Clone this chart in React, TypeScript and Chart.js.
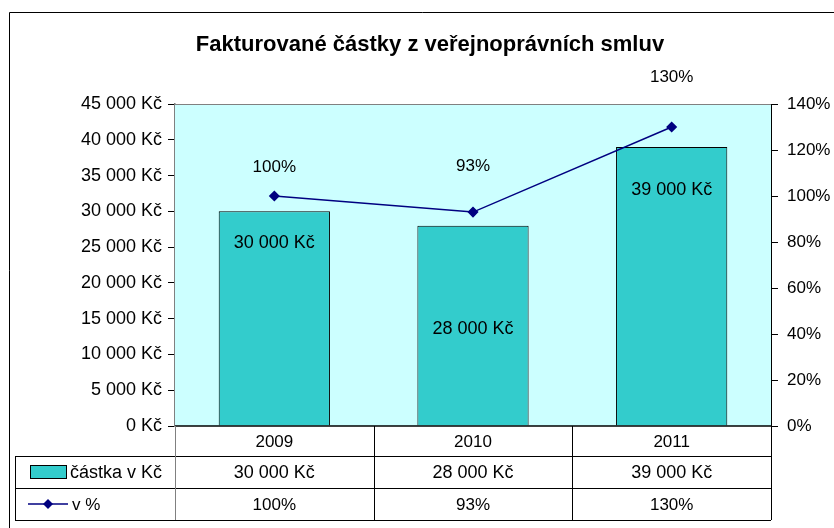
import React, { useEffect, useRef } from "react";
import { Chart, registerables } from "chart.js";

Chart.register(...registerables);

const title = "Fakturované částky z veřejnoprávních smluv";
const years = ["2009", "2010", "2011"];
const amounts = [30000, 28000, 39000];
const percents = [100, 93, 130];
const amountLabel = "částka v Kč";
const percentLabel = "v %";

const FONT = '"Liberation Sans", Arial, sans-serif';

const fmtKc = (v: number) =>
  String(v).replace(/\B(?=(\d{3})+(?!\d))/g, " ") + " Kč";
const fmtPct = (v: number) => Math.round(v) + "%";

const barLabelOffset = [32, 103, 43];
const lineLabelOffset = [-29, -46, -50];

const customPlugin = {
  id: "excelLook",
  beforeDatasetsDraw(chart: any) {
    const { ctx, chartArea: a } = chart;
    ctx.save();
    ctx.fillStyle = "#CCFFFF";
    ctx.fillRect(a.left, a.top, a.right - a.left, a.bottom - a.top);
    ctx.strokeStyle = "#808080";
    ctx.lineWidth = 1;
    ctx.beginPath();
    ctx.moveTo(a.left, a.top + 0.5);
    ctx.lineTo(a.right, a.top + 0.5);
    ctx.stroke();
    ctx.restore();
  },
  afterDraw(chart: any) {
    const { ctx, chartArea: a } = chart;
    const xs = chart.scales.x;
    const ys = chart.scales.y;
    const y1 = chart.scales.y1;
    ctx.save();

    // outer border
    ctx.strokeStyle = "#000";
    ctx.lineWidth = 1;
    ctx.beginPath();
    ctx.moveTo(9.5, 600);
    ctx.lineTo(9.5, 12.5);
    ctx.lineTo(900, 12.5);
    ctx.stroke();

    // title
    ctx.fillStyle = "#000";
    ctx.font = `bold 22px ${FONT}`;
    ctx.textAlign = "center";
    ctx.textBaseline = "middle";
    ctx.fillText(title, (a.left + a.right) / 2 - 43, 45);

    // x axis line
    ctx.strokeStyle = "#000";
    ctx.lineWidth = 1.5;
    ctx.beginPath();
    ctx.moveTo(a.left, a.bottom);
    ctx.lineTo(a.right, a.bottom);
    ctx.stroke();

    // data labels
    ctx.fillStyle = "#000";
    ctx.font = `18px ${FONT}`;
    amounts.forEach((v, i) => {
      const x = xs.getPixelForValue(i);
      ctx.fillText(fmtKc(v), x, ys.getPixelForValue(v) + barLabelOffset[i]);
    });
    ctx.font = `17px ${FONT}`;
    percents.forEach((v, i) => {
      const x = xs.getPixelForValue(i);
      ctx.fillText(fmtPct(v), x, y1.getPixelForValue(v) + lineLabelOffset[i]);
    });

    // data table
    const r0 = a.bottom;
    const r1 = r0 + 30;
    const r2 = r1 + 32;
    const r3 = r2 + 32;
    const tl = 15;
    const w = (a.right - a.left) / years.length;
    ctx.lineWidth = 1;
    ctx.strokeStyle = "#000";
    ctx.beginPath();
    ctx.moveTo(tl, r1 + 0.5);
    ctx.lineTo(a.right, r1 + 0.5);
    ctx.moveTo(tl, r2 + 0.5);
    ctx.lineTo(a.right, r2 + 0.5);
    ctx.moveTo(tl, r3 + 0.5);
    ctx.lineTo(a.right, r3 + 0.5);
    ctx.moveTo(tl + 0.5, r1);
    ctx.lineTo(tl + 0.5, r3);
    for (let i = 1; i <= years.length; i++) {
      const x = Math.round(a.left + i * w) + 0.5;
      ctx.moveTo(x, r0);
      ctx.lineTo(x, r3);
    }
    ctx.stroke();
    ctx.strokeStyle = "#808080";
    ctx.beginPath();
    ctx.moveTo(a.left + 0.5, r0);
    ctx.lineTo(a.left + 0.5, r3);
    ctx.stroke();

    ctx.fillStyle = "#000";
    ctx.textAlign = "center";
    years.forEach((y, i) => {
      const x = xs.getPixelForValue(i);
      ctx.font = `17px ${FONT}`;
      ctx.fillText(y, x, (r0 + r1) / 2 + 1);
      ctx.font = `18px ${FONT}`;
      ctx.fillText(fmtKc(amounts[i]), x, (r1 + r2) / 2 + 1);
      ctx.font = `17px ${FONT}`;
      ctx.fillText(fmtPct(percents[i]), x, (r2 + r3) / 2 + 1);
    });

    // legend keys
    const m2 = (r1 + r2) / 2;
    ctx.fillStyle = "#33CCCC";
    ctx.fillRect(30, m2 - 7, 37, 14);
    ctx.strokeStyle = "#000";
    ctx.strokeRect(30.5, m2 - 6.5, 36, 13);
    ctx.fillStyle = "#000";
    ctx.textAlign = "left";
    ctx.font = `18px ${FONT}`;
    ctx.fillText(amountLabel, 70, m2 + 1);

    const m3 = (r2 + r3) / 2;
    ctx.strokeStyle = "#000080";
    ctx.lineWidth = 1.5;
    ctx.beginPath();
    ctx.moveTo(28, m3);
    ctx.lineTo(68, m3);
    ctx.stroke();
    ctx.fillStyle = "#000080";
    ctx.beginPath();
    ctx.moveTo(48, m3 - 5);
    ctx.lineTo(53, m3);
    ctx.lineTo(48, m3 + 5);
    ctx.lineTo(43, m3);
    ctx.closePath();
    ctx.fill();
    ctx.fillStyle = "#000";
    ctx.font = `17px ${FONT}`;
    ctx.fillText(percentLabel, 72, m3 + 1);

    ctx.restore();
  },
};

export default function App() {
  const ref = useRef<HTMLCanvasElement | null>(null);
  useEffect(() => {
    if (!ref.current) return;
    const chart = new Chart(ref.current, {
      type: "bar",
      data: {
        labels: years,
        datasets: [
          {
            type: "bar",
            label: amountLabel,
            data: amounts,
            backgroundColor: "#33CCCC",
            borderColor: "#000",
            borderWidth: 1,
            categoryPercentage: 1,
            barPercentage: 0.56,
            yAxisID: "y",
            order: 2,
          } as any,
          {
            type: "line",
            label: percentLabel,
            data: percents,
            borderColor: "#000080",
            borderWidth: 1.5,
            pointStyle: "rectRot",
            pointRadius: 4.5,
            pointBackgroundColor: "#000080",
            pointBorderColor: "#000080",
            yAxisID: "y1",
            order: 1,
          } as any,
        ],
      },
      options: {
        animation: false,
        responsive: true,
        maintainAspectRatio: false,
        layout: { padding: { top: 104, bottom: 102, left: 0, right: 0 } },
        plugins: {
          legend: { display: false },
          title: { display: false },
          tooltip: { enabled: false },
        },
        scales: {
          x: { display: false, offset: true },
          y: {
            position: "left",
            min: 0,
            max: 45000,
            ticks: {
              stepSize: 5000,
              callback: (v: any) => fmtKc(Number(v)),
              font: { family: FONT, size: 18 },
              color: "#000",
              padding: 6,
            },
            grid: {
              drawOnChartArea: false,
              drawTicks: true,
              tickLength: 7,
              color: "#000",
            },
            border: { display: true, color: "#808080", width: 1.5 },
            afterFit: (s: any) => {
              s.width = 175;
            },
          },
          y1: {
            position: "right",
            min: 0,
            max: 140,
            ticks: {
              stepSize: 20,
              callback: (v: any) => v + "%",
              font: { family: FONT, size: 17 },
              color: "#000",
              padding: 9,
            },
            grid: {
              drawOnChartArea: false,
              drawTicks: true,
              tickLength: 7,
              color: "#000",
            },
            border: { display: true, color: "#000", width: 1 },
            afterFit: (s: any) => {
              s.width = 63;
            },
          },
        },
      } as any,
      plugins: [customPlugin],
    });
    return () => chart.destroy();
  }, []);
  return (
    <div
      style={{
        position: "fixed",
        left: 0,
        top: 0,
        width: 834,
        height: 528,
        background: "#fff",
      }}
    >
      <canvas ref={ref} />
    </div>
  );
}
